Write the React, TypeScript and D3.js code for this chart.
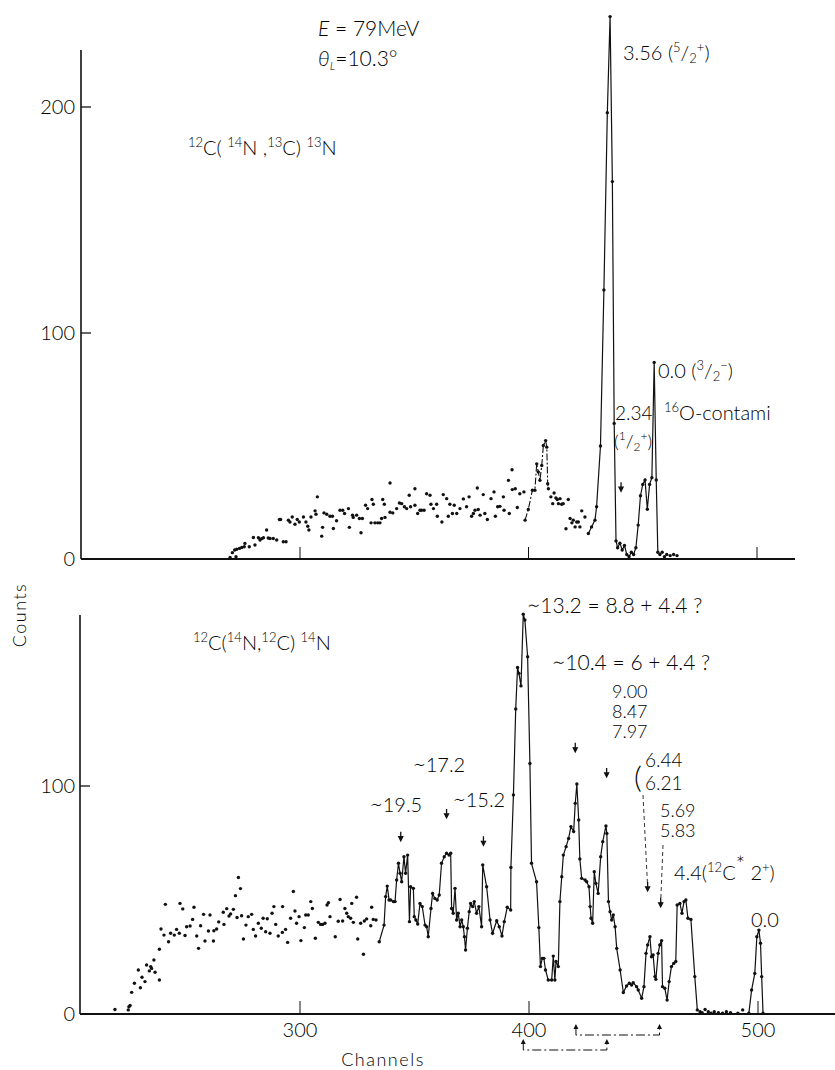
import React from "react";
import * as d3 from "d3";

type P = [number, number];

// ---------- axis ticks ----------
const topTicksX = [300, 400, 500];
const topTicksY = [0, 100, 200];
const bottomTicksX = [300, 400, 500];
const bottomTicksY = [0, 100];

// ---------- top panel: 12C(14N,13C)13N (channel, counts) ----------
const topDots: P[] = [
  [269.4, 0.7], [270.4, 2.8], [271.4, 4.0], [272.3, 4.3], [272.0, 1.0], [273.5, 4.7], [274.5, 5.1], [275.6, 5.4],
  [275.9, 6.9], [277.8, 5.4], [279.6, 9.5], [280.3, 6.2], [281.8, 9.4], [282.5, 8.4], [283.2, 9.0], [284.0, 9.4],
  [285.4, 12.8], [286.1, 9.3], [286.9, 9.1], [288.3, 9.1], [289.8, 8.4], [291.0, 17.5], [291.5, 17.5], [292.7, 7.6],
  [293.9, 7.6], [294.9, 17.2], [295.6, 16.4], [296.6, 18.6], [297.8, 15.4], [298.8, 17.5], [299.7, 16.4], [301.5, 18.6],
  [302.6, 16.4], [303.4, 14.5], [303.9, 12.8], [304.8, 18.6], [306.6, 21.3], [307.0, 19.8], [307.6, 27.5], [309.5, 10.1],
  [309.9, 14.0], [310.5, 20.4], [311.7, 19.8], [313.1, 18.9], [314.2, 18.9], [314.6, 13.5], [316.0, 16.9], [317.5, 21.6],
  [318.7, 21.6], [319.5, 20.1], [321.2, 22.3], [321.6, 14.0], [323.0, 19.4], [323.3, 18.4], [324.8, 19.4], [326.0, 17.9],
  [326.7, 11.6], [327.3, 17.9], [328.7, 23.8], [329.6, 22.3], [331.1, 16.0], [331.5, 26.3], [332.1, 24.2], [332.8, 16.0],
  [334.0, 16.0], [335.0, 16.0], [335.7, 17.9], [336.2, 26.3], [336.9, 24.2], [337.2, 18.4], [339.4, 33.6], [339.4, 20.7],
  [340.6, 20.4], [342.3, 22.3], [343.5, 24.8], [344.5, 24.5], [345.7, 23.1], [346.7, 22.3], [347.8, 28.2], [348.4, 23.1],
  [350.3, 31.1], [350.3, 23.8], [351.5, 20.1], [352.5, 21.6], [353.2, 21.6], [354.3, 21.6], [355.4, 28.9], [356.9, 28.2],
  [357.3, 24.2], [358.4, 22.3], [359.8, 24.2], [360.1, 18.9], [362.1, 16.4], [362.7, 28.5], [364.2, 26.7], [364.9, 18.9],
  [365.6, 24.2], [366.7, 20.1], [367.5, 23.8], [368.6, 20.1], [370.0, 22.3], [371.5, 26.6], [372.9, 23.1], [374.0, 27.5],
  [375.1, 18.9], [375.9, 20.1], [376.6, 21.6], [377.6, 31.4], [378.0, 21.9], [378.8, 19.4], [380.2, 28.5], [380.9, 20.1],
  [382.0, 17.5], [383.6, 26.7], [384.9, 29.7], [385.5, 18.9], [386.5, 23.1], [387.5, 23.3], [389.0, 27.5], [389.3, 21.6],
  [391.2, 34.8], [391.6, 20.1], [392.8, 39.5], [392.9, 30.7], [394.2, 31.1], [395.1, 22.8], [396.2, 28.9], [398.0, 29.7],
  [409.8, 27.5], [410.6, 24.5], [411.2, 29.2], [412.0, 27.0], [412.6, 26.3], [413.1, 24.5], [413.8, 26.7], [414.5, 24.2],
  [415.2, 24.5], [416.4, 13.4], [417.4, 26.3], [418.2, 17.9], [419.0, 16.0], [419.6, 17.2], [420.4, 14.2], [421.1, 16.4],
  [421.8, 16.4], [422.5, 14.2], [423.3, 21.3], [424.7, 18.6],
];
const topLineA: P[] = [
  [398.5, 17.2], [399.9, 21.9], [401.7, 30.4], [402.8, 30.4], [403.6, 42.1], [404.3, 38.5], [405.0, 34.8],
  [405.8, 41.4], [406.5, 50.2], [407.5, 52.4], [408.0, 49.5], [408.4, 33.3], [408.7, 31.1],
];
const topLineB: P[] = [
  [426.2, 11.3], [427.6, 14.2], [429.1, 17.2], [429.8, 23.1], [431.5, 50], [433.0, 119], [434.5, 197.5],
  [435.7, 240], [436.7, 167], [437.5, 60], [438.3, 8], [439.0, 5], [440.0, 7], [441.0, 4], [442.0, 6],
  [443.0, 2], [444.0, 1], [445.0, 3], [446.0, 2], [447.0, 5], [448.0, 15], [449.0, 28], [450.0, 33],
  [451.0, 35], [452.0, 22], [453.0, 33], [454.0, 36], [455.0, 87], [455.9, 35], [456.6, 3],
];
const topTailDots: P[] = [[457.5, 2], [458.5, 3], [459.5, 1], [460.5, 2], [462.0, 1.5], [463.5, 2], [465.0, 1.5]];
const topMarkers: P[] = [[440.5, 30]];

// ---------- bottom panel: 12C(14N,12C)14N ----------
const bottomDots: P[] = [
  [219.2, 2.0], [225.0, 1.8], [225.3, 3.2], [225.8, 3.7], [226.5, 9.5], [227.7, 13.5], [229.4, 19.3], [230.3, 11.5],
  [231.0, 16.1], [232.3, 14.2], [233.0, 21.5], [234.2, 18.9], [234.8, 20.8], [235.2, 20.0], [236.2, 23.7], [236.7, 18.3],
  [238.6, 14.9], [238.6, 28.4], [239.3, 37.3], [240.6, 34.6], [241.2, 48.1], [242.6, 31.7], [243.5, 35.4], [245.1, 34.6],
  [246.1, 37.1], [247.3, 35.4], [247.6, 48.5], [248.8, 46.1], [249.8, 34.4], [250.5, 38.3], [252.0, 38.6], [253.1, 41.5],
  [253.7, 46.8], [254.9, 34.2], [255.7, 28.8], [256.6, 38.7], [257.9, 43.7], [258.5, 32.0], [260.0, 36.4], [260.7, 43.4],
  [262.2, 32.0], [262.4, 36.5], [263.6, 37.3], [264.5, 40.4], [266.5, 44.6], [266.8, 39.3], [268.0, 46.2], [269.0, 43.0],
  [269.7, 43.9], [270.9, 45.9], [271.8, 51.9], [272.5, 42.3], [273.1, 59.9], [274.0, 55.0], [274.5, 43.1], [275.3, 32.9],
  [276.4, 39.0], [277.4, 42.7], [278.9, 43.7], [279.6, 37.1], [280.6, 34.2], [281.8, 39.8], [283.1, 37.6], [283.9, 42.0],
  [285.0, 36.1], [285.7, 41.8], [286.9, 35.4], [287.8, 44.2], [288.6, 47.1], [289.4, 39.3], [290.5, 34.2], [292.3, 35.8],
  [292.4, 47.1], [293.7, 37.1], [294.6, 31.4], [295.9, 42.0], [297.1, 53.7], [297.8, 45.2], [298.5, 39.8], [299.6, 42.7],
  [300.4, 32.2], [301.9, 37.9], [302.5, 43.4], [303.6, 43.4], [304.7, 49.3], [305.4, 46.3], [306.7, 33.2], [308.0, 40.2],
  [309.0, 39.3], [309.9, 39.3], [310.9, 39.8], [311.8, 47.8], [312.4, 48.8], [313.1, 42.7], [315.4, 33.9], [316.7, 40.7],
  [317.5, 50.2], [318.6, 40.8], [319.6, 46.3], [320.4, 44.2], [321.1, 42.7], [322.1, 42.0], [322.6, 48.5], [323.3, 40.2],
  [324.7, 51.2], [325.2, 32.9], [326.5, 39.8], [327.7, 26.2], [328.1, 40.8], [329.1, 41.7], [330.9, 38.7], [331.3, 46.8],
  [332.0, 41.5], [333.2, 41.2],
];
const bottomLine: P[] = [
  [334.6, 31.7], [336.7, 39.0], [337.4, 51.5], [338.1, 56.1], [338.9, 50.0], [339.6, 50.0], [340.8, 49.3], [341.5, 49.3],
  [342.2, 58.8], [343.0, 66.1], [343.7, 61.7], [344.4, 58.0], [345.4, 69.0], [346.1, 61.7], [347.0, 69.7], [347.8, 40.5],
  [348.3, 55.8], [349.5, 55.1], [349.9, 42.7], [350.6, 41.2], [351.4, 39.5], [352.4, 48.5], [353.4, 47.1], [354.6, 39.0],
  [355.3, 38.3], [356.0, 33.9], [357.2, 46.3], [357.9, 52.9], [358.9, 50.7], [359.9, 50.0], [360.8, 52.2], [361.8, 66.1],
  [363.0, 69.0], [364.0, 70.5], [365.1, 69.7], [365.8, 70.5], [366.2, 46.3], [366.9, 44.2], [367.7, 55.1], [368.4, 41.2],
  [369.1, 44.2], [369.9, 38.3], [370.6, 41.2], [371.3, 38.3], [371.8, 33.9], [372.3, 28.1], [373.1, 37.6], [373.9, 44.9],
  [374.5, 48.5], [375.4, 47.1], [376.1, 49.3], [377.1, 44.2], [378.1, 47.1], [379.3, 38.3], [379.8, 65.4], [381.5, 55.8],
  [383.0, 41.2], [384.1, 35.4], [385.9, 40.9], [387.0, 38.3], [388.2, 34.2], [389.2, 40.5], [390.5, 46.8], [392.0, 45.6],
  [392.1, 64.3], [393.2, 96.1], [394.2, 133.8], [395.0, 152.0], [395.6, 149.4], [396.5, 143.9], [397.5, 175.3],
  [398.2, 172.8], [399.4, 156.7], [400.4, 109.9], [401.1, 66.1], [403.3, 58.0], [404.3, 37.9], [405.0, 20.8], [405.8, 24.4],
  [406.5, 24.4], [407.2, 19.3], [408.4, 14.9], [409.9, 14.9], [410.6, 25.4], [411.3, 14.9], [411.8, 23.0], [412.8, 20.8],
  [413.5, 49.3], [414.3, 60.2], [415.0, 69.7], [416.2, 73.4], [417.3, 77.0], [418.3, 82.2], [419.5, 80.0], [420.2, 92.4],
  [420.9, 100.9], [421.7, 85.1], [422.2, 68.0], [423.0, 59.5], [424.5, 58.8], [425.2, 58.0], [426.2, 55.8], [426.7, 47.1],
  [427.1, 42.0], [427.8, 39.8], [428.5, 62.4], [429.2, 57.3], [430.2, 52.9], [431.3, 69.0], [432.2, 75.6], [433.6, 82.5],
  [434.0, 79.2], [434.7, 49.3], [435.4, 44.9], [436.1, 41.2], [436.8, 43.4], [437.6, 38.3], [438.3, 28.8], [439.8, 19.3],
  [441.2, 9.4], [442.6, 12.3], [443.8, 13.5], [444.8, 12.7], [445.5, 13.7], [447.0, 12.0], [447.7, 10.5], [449.2, 6.9],
  [450.2, 12.0], [451.1, 26.6], [451.8, 30.3], [452.8, 33.9], [453.5, 25.1], [454.2, 25.9], [455.0, 16.4], [455.4, 15.2],
  [456.4, 26.6], [457.1, 30.3], [457.9, 32.2], [458.3, 12.0], [459.3, 11.3], [460.3, 6.1], [461.2, 14.2], [462.2, 20.8],
  [463.2, 22.2], [464.1, 23.0], [464.7, 47.8], [465.9, 48.5], [466.8, 44.2], [467.7, 49.3], [468.5, 50.0], [469.4, 42.0],
  [470.7, 41.5], [472.4, 16.4], [473.5, 1.8],
];
const bottomTailDots: P[] = [
  [474.7, 1.0], [475.6, 0.6], [476.9, 2.0], [478.3, 1.0], [479.5, 0.3], [480.9, 1.0], [482.7, 0.6], [484.5, 0.3],
  [486.2, 1.0], [488.0, 0.6], [491.2, 0.3], [493.3, 1.8],
];
const bottomPeakZero: P[] = [
  [496.0, 0.3], [497.2, 10.5], [498.6, 17.8], [499.5, 33.9], [500.4, 36.8], [501.1, 31.0], [501.6, 16.4], [502.2, 0.3],
];
const bottomMarkers: P[] = [[344.0, 76], [364.0, 86], [380.1, 74], [420.2, 115], [433.9, 104]];
const bottomDashedMarkers: P[] = [[451.8, 54], [457.5, 47]];
// 4.4 MeV shift brackets below the axis (channel pairs)
const shiftBrackets: P[] = [[397.5, 434.0], [420.5, 457.0]];

const FONT = "Lato, 'DejaVu Sans', sans-serif";

function Sup({ children, size = 13 }: { children: React.ReactNode; size?: number }) {
  return (
    <tspan fontSize={size} dy={-8}>
      {children}
    </tspan>
  );
}

export default function App() {
  const xTop = d3.scaleLinear().domain([300, 500]).range([300, 757]);
  const yTop = d3.scaleLinear().domain([0, 200]).range([559, 107]);
  const xBot = d3.scaleLinear().domain([300, 500]).range([300, 758]);
  const yBot = d3.scaleLinear().domain([0, 100]).range([1014, 786]);

  const lineTop = d3.line<P>().x((d) => xTop(d[0])).y((d) => yTop(d[1]));
  const lineBot = d3.line<P>().x((d) => xBot(d[0])).y((d) => yBot(d[1]));

  const dot = (x: number, y: number, k: string) => <circle key={k} cx={x} cy={y} r={1.7} fill="#111" />;

  const marker = (x: number, y: number, k: string) => (
    <path key={k} d={`M${x},${y - 9} L${x},${y - 3} M${x - 2},${y - 4} L${x + 2},${y - 4} L${x},${y} Z`} stroke="#111" strokeWidth={1.3} fill="#111" />
  );

  return (
    <div style={{ position: "absolute", left: 0, top: 0 }}>
      <svg width={835} height={1070} style={{ display: "block", background: "#fff" }} fontFamily={FONT} fontWeight={300}>
        <rect width={835} height={1070} fill="#fff" />
        {/* ================= TOP PANEL ================= */}
        <line x1={81} y1={50} x2={81} y2={559} stroke="#111" strokeWidth={1.6} />
        <line x1={81} y1={559} x2={795} y2={559} stroke="#111" strokeWidth={1.8} />
        {topTicksY.map((t) => (
          <g key={"ty" + t}>
            {t > 0 && <line x1={81} x2={91} y1={yTop(t)} y2={yTop(t)} stroke="#111" strokeWidth={1.3} />}
            <text x={75} y={yTop(t) + 7} textAnchor="end" fontSize={20}>{t}</text>
          </g>
        ))}
        {topTicksX.map((t) => (
          <line key={"tx" + t} x1={xTop(t)} x2={xTop(t)} y1={559} y2={547} stroke="#111" strokeWidth={1} />
        ))}
        {topDots.map((d, i) => dot(xTop(d[0]), yTop(d[1]), "td" + i))}
        {topTailDots.map((d, i) => dot(xTop(d[0]), yTop(d[1]), "tt" + i))}
        <path d={lineTop(topLineA) || ""} fill="none" stroke="#111" strokeWidth={1.1} strokeDasharray="7,2,2,2" />
        {topLineA.map((d, i) => dot(xTop(d[0]), yTop(d[1]), "ta" + i))}
        <path d={lineTop(topLineB) || ""} fill="none" stroke="#111" strokeWidth={1.2} />
        {topLineB.map((d, i) => dot(xTop(d[0]), yTop(d[1]), "tb" + i))}
        {topMarkers.map((d, i) => marker(xTop(d[0]), yTop(d[1]), "tm" + i))}

        <text x={318} y={36} fontSize={21}>
          <tspan fontStyle="italic">E</tspan>
          <tspan> = 79MeV</tspan>
        </text>
        <text x={318} y={66} fontSize={21}>
          <tspan fontStyle="italic">θ</tspan>
          <tspan fontStyle="italic" fontSize={12} dy={4}>L</tspan>
          <tspan dy={-4}>=10.3°</tspan>
        </text>
        <text x={188} y={155} fontSize={20}>
          <Sup>12</Sup><tspan dy={8}>C( </tspan><Sup>14</Sup><tspan dy={8}>N ,</tspan><Sup>13</Sup>
          <tspan dy={8}>C) </tspan><Sup>13</Sup><tspan dy={8}>N</tspan>
        </text>
        <text x={623} y={60} fontSize={20}>
          <tspan>3.56 (</tspan><Sup>5</Sup><tspan dy={8}>/</tspan><tspan fontSize={13} dy={3}>2</tspan>
          <tspan fontSize={13} dy={-11}>+</tspan><tspan dy={8}>)</tspan>
        </text>
        <text x={658} y={378} fontSize={20}>
          <tspan>0.0 (</tspan><Sup>3</Sup><tspan dy={8}>/</tspan><tspan fontSize={13} dy={3}>2</tspan>
          <tspan fontSize={13} dy={-11}>−</tspan><tspan dy={8}>)</tspan>
        </text>
        <text x={615} y={420} fontSize={19}>2.34</text>
        <text x={614} y={448} fontSize={18}>
          <tspan>(</tspan><Sup size={12}>1</Sup><tspan dy={8}>/</tspan><tspan fontSize={12} dy={3}>2</tspan>
          <tspan fontSize={12} dy={-11}>+</tspan><tspan dy={8}>)</tspan>
        </text>
        <text x={664} y={420} fontSize={20}>
          <Sup>16</Sup><tspan dy={8}>O-contami</tspan>
        </text>

        {/* Counts label */}
        <text transform="translate(26,615) rotate(-90)" textAnchor="middle" fontSize={18} letterSpacing={1.5}>Counts</text>

        {/* ================= BOTTOM PANEL ================= */}
        <line x1={80} y1={615} x2={80} y2={1014} stroke="#111" strokeWidth={1.6} />
        <line x1={80} y1={1014} x2={835} y2={1014} stroke="#111" strokeWidth={1.8} />
        {bottomTicksY.map((t) => (
          <g key={"by" + t}>
            {t > 0 && <line x1={80} x2={90} y1={yBot(t)} y2={yBot(t)} stroke="#111" strokeWidth={1.3} />}
            <text x={75} y={yBot(t) + 7} textAnchor="end" fontSize={20}>{t}</text>
          </g>
        ))}
        {bottomTicksX.map((t) => (
          <g key={"bx" + t}>
            <line x1={xBot(t)} x2={xBot(t)} y1={1014} y2={1001} stroke="#111" strokeWidth={1} />
            <text x={xBot(t)} y={1037} textAnchor="middle" fontSize={20}>{t}</text>
          </g>
        ))}
        <text x={383} y={1066} textAnchor="middle" fontSize={18} letterSpacing={1.5}>Channels</text>

        {bottomDots.map((d, i) => dot(xBot(d[0]), yBot(d[1]), "bd" + i))}
        <path d={lineBot(bottomLine) || ""} fill="none" stroke="#111" strokeWidth={1.2} />
        {bottomLine.map((d, i) => dot(xBot(d[0]), yBot(d[1]), "bl" + i))}
        {bottomTailDots.map((d, i) => dot(xBot(d[0]), yBot(d[1]), "bt" + i))}
        <path d={lineBot(bottomPeakZero) || ""} fill="none" stroke="#111" strokeWidth={1.2} />
        {bottomPeakZero.map((d, i) => dot(xBot(d[0]), yBot(d[1]), "bz" + i))}
        {bottomMarkers.map((d, i) => marker(xBot(d[0]), yBot(d[1]), "bm" + i))}
        {bottomDashedMarkers.map((d, i) => (
          <g key={"bdm" + i}>
            <line x1={i === 0 ? 643 : 663} y1={i === 0 ? 795 : 845} x2={xBot(d[0])} y2={yBot(d[1]) - 4}
              stroke="#333" strokeWidth={1} strokeDasharray="4,3" />
            {marker(xBot(d[0]), yBot(d[1]), "bdmm" + i)}
          </g>
        ))}
        {shiftBrackets.map((b, i) => {
          const yb = i === 0 ? 1050 : 1035;
          const x1 = xBot(b[0]);
          const x2 = xBot(b[1]);
          return (
            <g key={"br" + i}>
              <path d={`M${x1},${yb - 8} L${x1},${yb} L${x2},${yb} L${x2},${yb - 8}`} fill="none" stroke="#111"
                strokeWidth={1} strokeDasharray="9,3,2,3" />
              <path d={`M${x1 - 2.5},${yb - 6} L${x1},${yb - 11} L${x1 + 2.5},${yb - 6} Z`} fill="#111" />
              <path d={`M${x2 - 2.5},${yb - 6} L${x2},${yb - 11} L${x2 + 2.5},${yb - 6} Z`} fill="#111" />
            </g>
          );
        })}

        <text x={193} y={650} fontSize={20}>
          <Sup>12</Sup><tspan dy={8}>C(</tspan><Sup>14</Sup><tspan dy={8}>N,</tspan><Sup>12</Sup>
          <tspan dy={8}>C) </tspan><Sup>14</Sup><tspan dy={8}>N</tspan>
        </text>
        <text x={527} y={613} fontSize={21}>∼13.2 = 8.8 + 4.4 ?</text>
        <text x={552} y={670} fontSize={21}>∼10.4 = 6 + 4.4 ?</text>
        <text x={612} y={698} fontSize={18}>9.00</text>
        <text x={612} y={718} fontSize={18}>8.47</text>
        <text x={612} y={738} fontSize={18}>7.97</text>
        <text x={634} y={788} fontSize={30}>(</text>
        <text x={645} y={767} fontSize={19}>6.44</text>
        <text x={645} y={790} fontSize={19}>6.21</text>
        <text x={660} y={817} fontSize={18}>5.69</text>
        <text x={660} y={837} fontSize={18}>5.83</text>
        <text x={370} y={812} fontSize={20}>∼19.5</text>
        <text x={413} y={772} fontSize={20}>∼17.2</text>
        <text x={453} y={807} fontSize={20}>∼15.2</text>
        <text x={674} y={880} fontSize={20}>
          <tspan>4.4(</tspan><Sup>12</Sup><tspan dy={8}>C</tspan><tspan fontSize={22} dy={-8}>*</tspan>
          <tspan dy={8}> 2</tspan><Sup>+</Sup><tspan dy={8}>)</tspan>
        </text>
        <text x={751} y={927} fontSize={20}>0.0</text>
      </svg>
    </div>
  );
}
